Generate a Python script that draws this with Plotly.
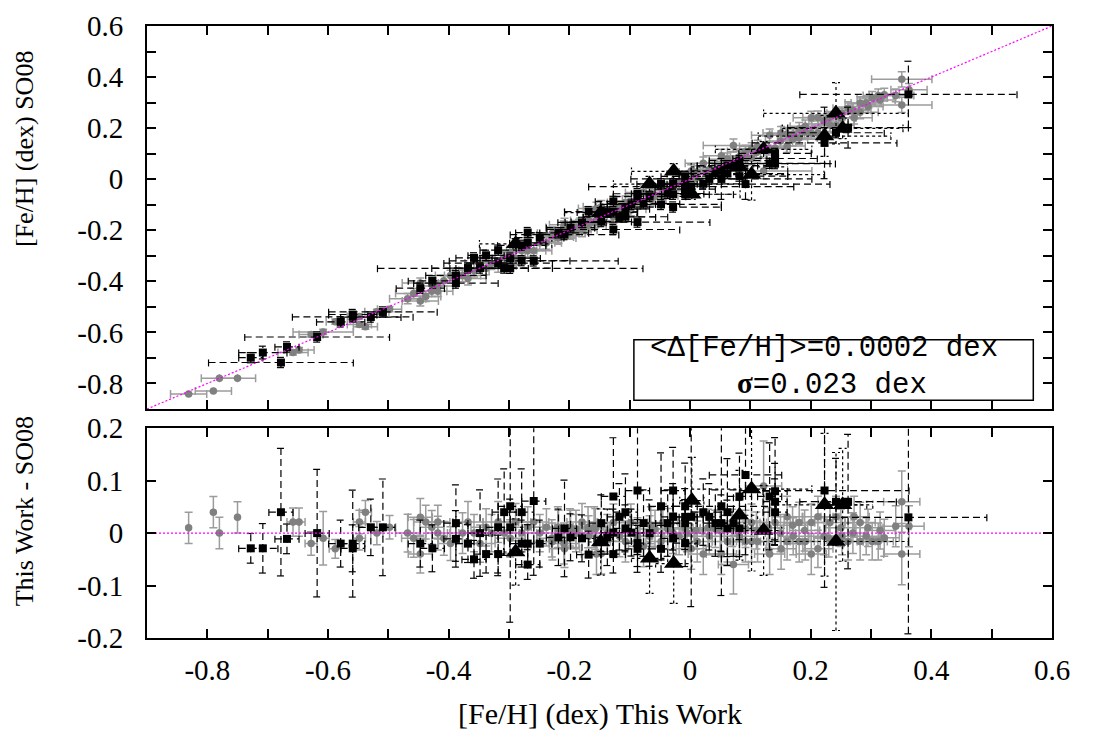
import math
import plotly.graph_objects as go

# ---------------- data ----------------
# grey circles: [Fe/H] This Work, residual (This Work - SO08), errors
gray_this = [
    -0.831, -0.790, -0.780, -0.750, -0.658, -0.648, -0.628, -0.608, -0.588, -0.548,
    -0.548, -0.538, -0.519, -0.498, -0.468, -0.458, -0.447, -0.447, -0.438, -0.428,
    -0.418, -0.418, -0.408, -0.397, -0.377, -0.368, -0.358, -0.348, -0.338, -0.329,
    -0.318, -0.308, -0.298, -0.289, -0.279, -0.269, -0.259, -0.249, -0.238, -0.229,
    -0.219, -0.209, -0.199, -0.189, -0.179, -0.169, -0.159, -0.155, -0.228, -0.208,
    -0.189, -0.168, -0.157, -0.147, -0.137, -0.127, -0.117, -0.107, -0.098, -0.087,
    -0.077, -0.067, -0.058, -0.048, -0.037, -0.028, -0.018, -0.008, 0.002, 0.012,
    0.022, 0.032, 0.042, 0.052, 0.062, 0.072, 0.082, 0.092, 0.102, 0.092,
    0.102, 0.112, 0.122, 0.132, 0.141, 0.151, 0.161, 0.161, 0.171, 0.181,
    0.181, 0.191, 0.201, 0.201, 0.212, 0.212, 0.222, 0.232, 0.242, 0.252,
    0.262, 0.272, 0.282, 0.282, 0.292, 0.302, 0.312, 0.322, 0.341, 0.351,
    0.351, 0.363, -0.218, -0.198, 0.010, 0.030, 0.050, 0.070, 0.110, 0.130,
    0.150, 0.170, 0.190, 0.230, 0.250, 0.270, 0.295, 0.315, -0.005, -0.065,
    -0.045,
]
gray_resid = [
    0.010, 0.040, 0.000, 0.030, 0.021, 0.021, -0.020, -0.010, -0.030, 0.021,
    -0.010, 0.040, 0.000, 0.011, 0.000, -0.010, 0.030, -0.040, 0.021, 0.011,
    0.021, 0.000, -0.010, -0.020, 0.000, 0.021, 0.000, -0.020, 0.011, 0.000,
    0.021, 0.000, -0.010, 0.021, 0.000, 0.011, 0.021, 0.000, 0.011, -0.010,
    0.011, -0.020, 0.011, 0.000, 0.021, 0.011, 0.011, -0.040, -0.016, -0.030,
    0.008, -0.006, 0.008, -0.039, 0.000, 0.020, -0.006, -0.016, 0.020, -0.006,
    -0.025, -0.006, 0.008, -0.016, 0.008, 0.000, -0.006, 0.010, -0.030, -0.016,
    -0.040, -0.006, 0.008, -0.040, -0.016, -0.060, -0.006, 0.008, -0.016, -0.016,
    0.020, -0.016, 0.090, -0.040, 0.020, -0.030, 0.031, -0.016, -0.006, 0.020,
    -0.016, -0.016, 0.020, -0.040, 0.031, -0.030, -0.006, 0.020, 0.031, -0.006,
    -0.016, 0.031, 0.020, -0.016, -0.006, -0.016, -0.016, -0.009, 0.013, 0.060,
    -0.040, 0.013, 0.008, 0.008, 0.005, 0.010, 0.005, 0.010, 0.005, 0.010,
    0.000, 0.015, 0.005, -0.010, 0.010, 0.000, 0.010, 0.005, 0.000, 0.015,
    0.020,
]
gray_err_this = [
    0.030, 0.030, 0.030, 0.030, 0.025, 0.025, 0.020, 0.050, 0.015, 0.020,
    0.020, 0.020, 0.020, 0.020, 0.030, 0.030, 0.030, 0.030, 0.025, 0.025,
    0.025, 0.025, 0.025, 0.025, 0.030, 0.030, 0.025, 0.025, 0.025, 0.025,
    0.030, 0.030, 0.025, 0.025, 0.025, 0.030, 0.030, 0.025, 0.025, 0.025,
    0.030, 0.030, 0.025, 0.025, 0.025, 0.030, 0.030, 0.030, 0.025, 0.025,
    0.025, 0.030, 0.030, 0.030, 0.025, 0.025, 0.030, 0.030, 0.025, 0.025,
    0.030, 0.030, 0.025, 0.025, 0.030, 0.030, 0.025, 0.025, 0.030, 0.030,
    0.030, 0.025, 0.025, 0.030, 0.030, 0.050, 0.025, 0.025, 0.030, 0.030,
    0.025, 0.030, 0.080, 0.030, 0.025, 0.030, 0.030, 0.025, 0.025, 0.030,
    0.030, 0.025, 0.025, 0.030, 0.030, 0.025, 0.025, 0.030, 0.030, 0.025,
    0.025, 0.030, 0.030, 0.025, 0.025, 0.025, 0.025, 0.025, 0.030, 0.050,
    0.050, 0.030, 0.025, 0.025, 0.025, 0.025, 0.030, 0.025, 0.025, 0.030,
    0.025, 0.025, 0.030, 0.025, 0.025, 0.030, 0.025, 0.025, 0.025, 0.025,
    0.025,
]
gray_err_so08 = [
    0.000, 0.000, 0.000, 0.000, 0.010, 0.010, 0.010, 0.010, 0.010, 0.010,
    0.010, 0.010, 0.010, 0.010, 0.020, 0.020, 0.020, 0.020, 0.020, 0.020,
    0.020, 0.020, 0.020, 0.020, 0.025, 0.025, 0.025, 0.025, 0.025, 0.025,
    0.025, 0.025, 0.025, 0.025, 0.025, 0.025, 0.025, 0.025, 0.025, 0.025,
    0.025, 0.025, 0.025, 0.025, 0.025, 0.025, 0.025, 0.025, 0.025, 0.025,
    0.025, 0.025, 0.025, 0.025, 0.025, 0.025, 0.025, 0.025, 0.025, 0.025,
    0.025, 0.025, 0.025, 0.025, 0.025, 0.025, 0.025, 0.025, 0.025, 0.025,
    0.025, 0.025, 0.025, 0.025, 0.025, 0.025, 0.025, 0.025, 0.025, 0.025,
    0.025, 0.025, 0.030, 0.025, 0.025, 0.025, 0.025, 0.025, 0.025, 0.025,
    0.025, 0.025, 0.025, 0.025, 0.025, 0.025, 0.025, 0.025, 0.025, 0.025,
    0.025, 0.025, 0.025, 0.025, 0.025, 0.025, 0.025, 0.025, 0.025, 0.030,
    0.030, 0.025, 0.025, 0.025, 0.025, 0.025, 0.025, 0.025, 0.025, 0.025,
    0.025, 0.025, 0.025, 0.025, 0.025, 0.025, 0.025, 0.025, 0.025, 0.025,
    0.025,
]

# black squares
sq_this = [
    -0.728, -0.708, -0.678, -0.668, -0.618, -0.579, -0.559, -0.559, -0.529, -0.509,
    -0.447, -0.427, -0.388, -0.388, -0.368, -0.358, -0.348, -0.338, -0.318, -0.318,
    -0.308, -0.298, -0.298, -0.279, -0.279, -0.269, -0.269, -0.259, -0.249, -0.218,
    -0.208, -0.198, -0.179, -0.168, -0.147, -0.137, -0.127, -0.127, -0.127, -0.117,
    -0.107, -0.107, -0.097, -0.087, -0.087, -0.087, -0.077, -0.067, -0.048, -0.048,
    -0.037, -0.028, -0.028, -0.028, -0.008, -0.008, -0.008, -0.008, 0.002, 0.022,
    0.032, 0.042, 0.052, 0.052, 0.062, 0.062, 0.072, 0.082, 0.082, 0.092,
    0.132, 0.141, 0.141, 0.141, 0.223, 0.242, 0.262, 0.362,
]
sq_resid = [
    -0.029, -0.029, 0.040, -0.011, 0.000, -0.020, -0.020, -0.029, 0.011, 0.011,
    -0.020, -0.029, 0.019, -0.011, -0.020, -0.050, 0.000, -0.040, 0.011, -0.040,
    0.040, 0.051, 0.011, 0.040, -0.020, -0.020, -0.060, 0.061, -0.020, -0.008,
    0.009, -0.008, -0.010, -0.041, 0.019, -0.008, 0.070, 0.001, -0.040, 0.031,
    0.040, 0.009, 0.001, 0.081, -0.019, -0.030, 0.019, 0.000, 0.051, -0.030,
    0.019, 0.081, 0.031, -0.010, 0.051, 0.031, 0.019, -0.019, 0.031, 0.040,
    0.031, 0.019, 0.051, 0.019, 0.040, 0.009, 0.019, 0.070, 0.009, 0.111,
    0.070, 0.080, 0.060, 0.040, 0.081, 0.060, 0.060, 0.030,
]
sq_err_this = [
    0.020, 0.040, 0.120, 0.020, 0.120, 0.040, 0.100, 0.040, 0.050, 0.090,
    0.040, 0.040, 0.070, 0.050, 0.030, 0.030, 0.080, 0.030, 0.090, 0.030,
    0.080, 0.220, 0.050, 0.080, 0.040, 0.030, 0.020, 0.140, 0.040, 0.050,
    0.090, 0.040, 0.040, 0.040, 0.050, 0.050, 0.110, 0.040, 0.030, 0.060,
    0.070, 0.040, 0.040, 0.120, 0.040, 0.040, 0.060, 0.060, 0.100, 0.040,
    0.060, 0.080, 0.060, 0.040, 0.080, 0.050, 0.040, 0.040, 0.170, 0.060,
    0.060, 0.060, 0.150, 0.050, 0.100, 0.050, 0.060, 0.080, 0.050, 0.140,
    0.100, 0.100, 0.070, 0.060, 0.120, 0.080, 0.100, 0.180,
]
sq_err_so08 = [
    0.020, 0.025, 0.020, 0.020, 0.020, 0.020, 0.020, 0.020, 0.020, 0.020,
    0.020, 0.020, 0.020, 0.020, 0.020, 0.020, 0.020, 0.020, 0.020, 0.020,
    0.020, 0.020, 0.020, 0.020, 0.020, 0.020, 0.020, 0.020, 0.020, 0.020,
    0.020, 0.020, 0.020, 0.020, 0.020, 0.020, 0.020, 0.020, 0.020, 0.020,
    0.020, 0.020, 0.020, 0.020, 0.020, 0.020, 0.020, 0.020, 0.020, 0.020,
    0.020, 0.020, 0.020, 0.020, 0.020, 0.020, 0.020, 0.020, 0.020, 0.020,
    0.020, 0.020, 0.080, 0.020, 0.020, 0.020, 0.020, 0.020, 0.020, 0.060,
    0.020, 0.020, 0.020, 0.020, 0.140, 0.020, 0.080, 0.130,
]

# black triangles
tr_this = [-0.289, -0.148, -0.067, -0.027, 0.003, 0.082, 0.102, 0.122, 0.223, 0.242, 0.253]
tr_resid = [-0.036, -0.017, -0.048, -0.058, 0.062, 0.034, 0.084, 0.005, 0.054, -0.016, 0.054]
tr_err_this = [0.060, 0.060, 0.060, 0.070, 0.080, 0.080, 0.120, 0.080, 0.110, 0.120, 0.100]
tr_err_so08 = [0.020, 0.020, 0.030, 0.030, 0.020, 0.030, 0.100, 0.030, 0.080, 0.120, 0.040]

one_to_one = [-0.9, 0.6]
zero_line = [0.0, 0.0]

x_tick_vals = [-0.9, -0.8, -0.7, -0.6, -0.5, -0.4, -0.3, -0.2, -0.1, 0.0, 0.1, 0.2, 0.3, 0.4, 0.5, 0.6]
x_tick_text = ["", "-0.8", "", "-0.6", "", "-0.4", "", "-0.2", "", "0", "", "0.2", "", "0.4", "", "0.6"]
top_y_tick_vals = x_tick_vals
top_y_tick_text = x_tick_text
bot_y_tick_vals = [-0.2, -0.1, 0.0, 0.1, 0.2]
bot_y_tick_text = ["-0.2", "-0.1", "0", "0.1", "0.2"]

mean_text = "&lt;Δ[Fe/H]&gt;=0.0002 dex"
sigma_text = "<span style=\"font-family:'Liberation Serif'\"><b>σ</b></span>=0.023 dex"

# ---------------- derived ----------------
def so08(t, r):
    return [a - b for a, b in zip(t, r)]

def comb(a, b):
    return [math.hypot(p, q) for p, q in zip(a, b)]

gray_so08 = so08(gray_this, gray_resid)
sq_so08 = so08(sq_this, sq_resid)
tr_so08 = so08(tr_this, tr_resid)

# pixel->data conversions of cap half-lengths (4 px)
CAPX = 4 / 603.0
CAPY_TOP = 4 / 261.5
CAPY_BOT = 4 / 535.0


def bars(xs, ys, exs, eys, capx, capy):
    X, Y = [], []
    for x, y, ex, ey in zip(xs, ys, exs, eys):
        if ex > 0:
            X += [x - ex, x + ex, None, x - ex, x - ex, None, x + ex, x + ex, None]
            Y += [y, y, None, y - capy, y + capy, None, y - capy, y + capy, None]
        if ey > 0:
            X += [x, x, None, x - capx, x + capx, None, x - capx, x + capx, None]
            Y += [y - ey, y + ey, None, y - ey, y - ey, None, y + ey, y + ey, None]
    return X, Y


GRAY = "#808080"
GRAY_BAR = "#9c9c9c"
MAG = "#ff00ff"

fig = go.Figure()

# ---- top panel ----
fig.add_trace(go.Scatter(
    x=gray_this, y=gray_so08, mode="markers", xaxis="x", yaxis="y",
    marker=dict(symbol="circle", size=7.5, color=GRAY),
    error_x=dict(type="data", array=gray_err_this, color=GRAY_BAR, thickness=1.5, width=4),
    error_y=dict(type="data", array=gray_err_so08, color=GRAY_BAR, thickness=1.5, width=4),
))
bx, by = bars(sq_this, sq_so08, sq_err_this, sq_err_so08, CAPX, CAPY_TOP)
fig.add_trace(go.Scatter(x=bx, y=by, mode="lines", xaxis="x", yaxis="y",
                         line=dict(color="black", width=1.2, dash="7px,4px")))
fig.add_trace(go.Scatter(x=sq_this, y=sq_so08, mode="markers", xaxis="x", yaxis="y",
                         marker=dict(symbol="square", size=8, color="black")))
bx, by = bars(tr_this, tr_so08, tr_err_this, tr_err_so08, CAPX, CAPY_TOP)
fig.add_trace(go.Scatter(x=bx, y=by, mode="lines", xaxis="x", yaxis="y",
                         line=dict(color="black", width=1.2, dash="3px,3px")))
fig.add_trace(go.Scatter(x=tr_this, y=tr_so08, mode="markers", xaxis="x", yaxis="y",
                         marker=dict(symbol="triangle-up", size=17, color="black")))
fig.add_trace(go.Scatter(x=one_to_one, y=one_to_one, mode="lines", xaxis="x", yaxis="y",
                         line=dict(color=MAG, width=1.2, dash="2px,2px")))

# ---- bottom panel ----
fig.add_trace(go.Scatter(
    x=gray_this, y=gray_resid, mode="markers", xaxis="x2", yaxis="y2",
    marker=dict(symbol="circle", size=7.5, color=GRAY),
    error_x=dict(type="data", array=gray_err_so08, color=GRAY_BAR, thickness=1.5, width=4),
    error_y=dict(type="data", array=comb(gray_err_this, gray_err_so08), color=GRAY_BAR,
                 thickness=1.5, width=4),
))
bx, by = bars(sq_this, sq_resid, sq_err_so08, comb(sq_err_this, sq_err_so08), CAPX, CAPY_BOT)
fig.add_trace(go.Scatter(x=bx, y=by, mode="lines", xaxis="x2", yaxis="y2",
                         line=dict(color="black", width=1.2, dash="7px,4px")))
fig.add_trace(go.Scatter(x=sq_this, y=sq_resid, mode="markers", xaxis="x2", yaxis="y2",
                         marker=dict(symbol="square", size=8, color="black")))
bx, by = bars(tr_this, tr_resid, tr_err_so08, comb(tr_err_this, tr_err_so08), CAPX, CAPY_BOT)
fig.add_trace(go.Scatter(x=bx, y=by, mode="lines", xaxis="x2", yaxis="y2",
                         line=dict(color="black", width=1.2, dash="3px,3px")))
fig.add_trace(go.Scatter(x=tr_this, y=tr_resid, mode="markers", xaxis="x2", yaxis="y2",
                         marker=dict(symbol="triangle-up", size=17, color="black")))
fig.add_trace(go.Scatter(x=one_to_one, y=zero_line, mode="lines", xaxis="x2", yaxis="y2",
                         line=dict(color=MAG, width=1.2, dash="2px,2px")))

TICKFONT = dict(family="Liberation Serif, Times New Roman, serif", size=29, color="black")
axis_common = dict(
    showline=True, linecolor="black", linewidth=2, mirror="ticks",
    ticks="inside", ticklen=9, tickwidth=1.5, tickcolor="black",
    showgrid=False, zeroline=False, tickfont=TICKFONT, tickmode="array",
)

fig.update_layout(
    width=1094, height=738,
    margin=dict(l=147, r=42, t=10, b=100),
    paper_bgcolor="white", plot_bgcolor="white",
    showlegend=False,
    xaxis=dict(anchor="y", domain=[0, 1], range=[-0.9, 0.6],
               tickvals=x_tick_vals, ticktext=x_tick_text, showticklabels=False, **axis_common),
    yaxis=dict(anchor="x", domain=[0.3742, 1.0], range=[-0.9, 0.6],
               tickvals=top_y_tick_vals, ticktext=top_y_tick_text,
               ticklabelstandoff=16, **axis_common),
    xaxis2=dict(anchor="y2", domain=[0, 1], range=[-0.9, 0.6],
                tickvals=x_tick_vals, ticktext=x_tick_text,
                ticklabelstandoff=5, **axis_common),
    yaxis2=dict(anchor="x2", domain=[0, 0.3428], range=[-0.2, 0.2],
                tickvals=bot_y_tick_vals, ticktext=bot_y_tick_text,
                ticklabelstandoff=16, **axis_common),
)

fig.add_shape(type="rect", xref="x", yref="y", x0=-0.093, x1=0.569, y0=-0.866, y1=-0.629,
              line=dict(color="black", width=1.5), fillcolor="white", layer="above")

MONO = dict(family="Liberation Mono", size=29, color="black")
# boundary between the two text lines at ~365 px -> data y
fig.add_annotation(x=0.222, y=-0.7306, xref="x", yref="y", text=mean_text, showarrow=False,
                   font=MONO, xanchor="center", yanchor="bottom", borderpad=0)
fig.add_annotation(x=0.236, y=-0.7306, xref="x", yref="y", text=sigma_text, showarrow=False,
                   font=MONO, xanchor="center", yanchor="top", borderpad=0)

TITLEFONT = dict(family="Liberation Serif, Times New Roman, serif", size=30, color="black")
YTITLEFONT = dict(family="Liberation Serif, Times New Roman, serif", size=26, color="black")
fig.add_annotation(x=0.5, y=-0.1242, xref="paper", yref="paper", text="[Fe/H] (dex) This Work",
                   showarrow=False, font=TITLEFONT, xanchor="center", yanchor="middle")
fig.add_annotation(x=-0.1359, y=0.799, xref="paper", yref="paper", text="[Fe/H] (dex) SO08",
                   showarrow=False, font=YTITLEFONT, textangle=-90, xanchor="center", yanchor="middle")
fig.add_annotation(x=-0.1359, y=0.207, xref="paper", yref="paper", text="This Work - SO08",
                   showarrow=False, font=YTITLEFONT, textangle=-90, xanchor="center", yanchor="middle")

fig.write_html("out.html")
